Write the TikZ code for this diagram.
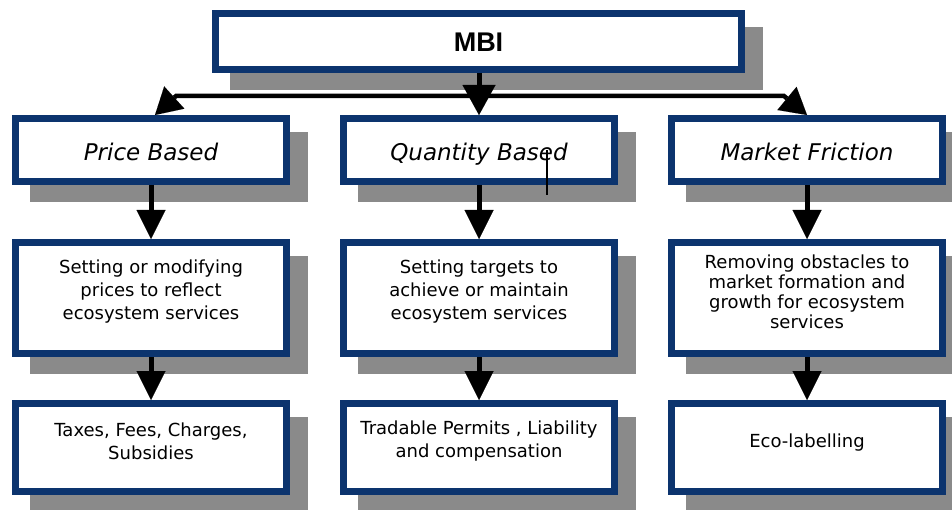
\documentclass[tikz,border=0pt]{standalone}
\usepackage{fontspec}
\setmainfont{DejaVu Sans}
\newfontfamily\mbifont{Liberation Sans}
\usetikzlibrary{arrows.meta}
\definecolor{navy}{HTML}{0C346E}
\definecolor{shadowgray}{HTML}{8A8A8A}
\tikzset{
  box/.style={rectangle, draw=navy, line width=7pt, fill=white, inner sep=0pt,
    preaction={fill=shadowgray, draw=shadowgray, line width=7pt,
      transform canvas={shift={(18pt,-17pt)}}}},
  topbox/.style={box, minimum width=526pt, minimum height=56pt},
  rowA/.style={box, minimum width=271pt, minimum height=63pt},
  rowB/.style={box, minimum width=271pt, minimum height=111pt},
  rowC/.style={box, minimum width=271pt, minimum height=88pt},
  mbitxt/.style={font=\mbifont\bfseries\fontsize{27}{30}\selectfont, text=black},
  titletxt/.style={font=\itshape\fontsize{23}{27}\selectfont, text=black,
    text height=17pt, text depth=0pt},
  bodytxt/.style={font=\fontsize{18}{23}\selectfont, align=center, text=black, inner sep=0pt},
  bodytight/.style={font=\fontsize{18}{20}\selectfont, align=center, text=black, inner sep=0pt},
  arr/.style={draw=black, line width=5pt,
    -{Triangle[length=29pt, width=29pt, line width=0.01pt]}},
  harr/.style={draw=black, line width=4.5pt, line join=miter,
    -{Triangle[length=26pt, width=30pt, line width=0.01pt]}},
  marr/.style={draw=black, line width=5pt,
    -{Triangle[length=30pt, width=33pt, line width=0.01pt]}},
}
\begin{document}
\begin{tikzpicture}[x=1pt, y=-1pt]
\useasboundingbox (0,0) rectangle (952,510);
\fill[white] (0,0) rectangle (952,510);

% top box
\node[topbox] (mbi) at (478.5,41.5) {};
\node[mbitxt] (mbit) at ([yshift=-1pt]mbi.center) {MBI};

% row 1
\node[rowA] (pb) at (151,150) {};
\node[rowA] (qb) at (479,150) {};
\node[rowA] (mf) at (807,150) {};
\node[titletxt] (pbt) at ([yshift=-2pt]pb.center) {Price Based};
\node[titletxt] (qbt) at ([yshift=-2pt]qb.center) {Quantity Based};
\node[titletxt] (mft) at ([yshift=-2pt]mf.center) {Market Friction};

% row 2
\node[rowB] (pd) at (151,298) {};
\node[rowB] (qd) at (479,298) {};
\node[rowB] (md) at (807,298) {};
\node[bodytxt] (pdt) at ([yshift=6pt]pd.center) {Setting or modifying\\prices to reflect\\ecosystem services};
\node[bodytxt] (qdt) at ([yshift=6pt]qd.center) {Setting targets to\\achieve or maintain\\ecosystem services};
\node[bodytight] (mdt) at ([yshift=6pt]md.center) {Removing obstacles to\\market formation and\\growth for ecosystem\\services};

% row 3
\node[rowC] (pe) at (151,447.5) {};
\node[rowC] (qe) at (479,447.5) {};
\node[rowC] (me) at (807,447.5) {};
\node[bodytxt] (pet) at ([yshift=6pt]pe.center) {Taxes, Fees, Charges,\\Subsidies};
\node[bodytxt] (qet) at ([yshift=6pt]qe.center) {Tradable Permits , Liability\\and compensation};
\node[bodytxt] (met) at ([yshift=4.5pt]me.center) {Eco-labelling};

% connectors
\coordinate (jm) at (480,96);
\coordinate (jl) at (176,96);
\coordinate (jr) at (784,96);
\draw[harr] (jm) -- (jl) -- ([xshift=4pt]pb.north);
\draw[harr] (jm) -- (jr) -- (mf.north);
\draw[marr] (qb.north |- mbi.south) -- (qb.north);

\draw[arr] (pb.south) -- (pd.north);
\draw[arr] (qb.south) -- (qd.north);
\draw[arr] (mf.south) -- (md.north);
\draw[arr] (pd.south) -- (pe.north);
\draw[arr] (qd.south) -- (qe.north);
\draw[arr] (md.south) -- (me.north);

% stray mark
\draw[black, line width=1.5pt] ([xshift=68pt]qb.center) -- ++(0,45);
\end{tikzpicture}
\end{document}
